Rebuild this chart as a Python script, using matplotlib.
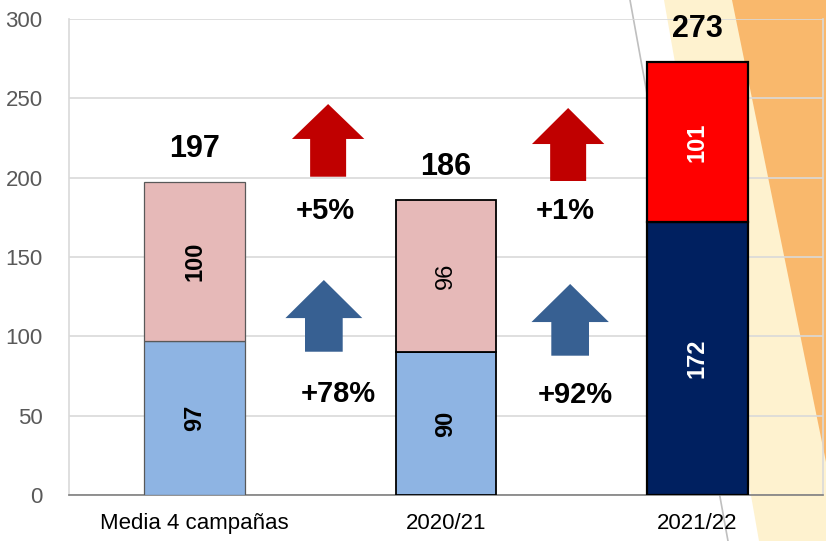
import matplotlib
matplotlib.use("Agg")
import matplotlib.pyplot as plt
from matplotlib.patches import Polygon
from matplotlib.lines import Line2D

plt.rcParams['font.family'] = ['Liberation Sans', 'DejaVu Sans']

categories = ["Media 4 campañas", "2020/21", "2021/22"]
bottom_vals = [97, 90, 172]
top_vals = [100, 96, 101]
totals = [197, 186, 273]
bottom_colors = ["#8EB4E3", "#8EB4E3", "#002060"]
top_colors = ["#E6B9B8", "#E6B9B8", "#FF0000"]
edge_colors = ["#595959", "#000000", "#000000"]
edge_widths = [0.9, 1.3, 1.6]
label_colors = ["black", "black", "white"]
top_label_bold = [True, False, True]
pct_red = ["+5%", "+1%"]
pct_blue = ["+78%", "+92%"]
yticks = [0, 50, 100, 150, 200, 250, 300]

W, H = 826, 541
fig = plt.figure(figsize=(W / 100, H / 100), dpi=100)

def fpt(px, py):
    return (px / W, 1 - py / H)

# background decoration
pale = Polygon([fpt(664, 0), fpt(826, 0), fpt(826, 541), fpt(759, 541)],
               closed=True, transform=fig.transFigure, facecolor="#FEF2CF",
               edgecolor="none", zorder=-3)
dark = Polygon([fpt(732, 0), fpt(826, 0), fpt(826, 462)],
               closed=True, transform=fig.transFigure, facecolor="#F9B86C",
               edgecolor="none", zorder=-2)
fig.add_artist(pale)
fig.add_artist(dark)
gl = Line2D([630 / W, 728 / W], [1, 0], transform=fig.transFigure,
            color="#BFBFBF", lw=1.2, zorder=-1)
fig.add_artist(gl)

ax = fig.add_axes([69 / W, 46 / H, 754 / W, 476 / H])
ax.set_facecolor("none")
ax.set_axisbelow(True)

x = list(range(len(categories)))
for i in x:
    ax.bar(i, bottom_vals[i], width=0.40, color=bottom_colors[i],
           edgecolor=edge_colors[i], linewidth=edge_widths[i], zorder=3)
    ax.bar(i, top_vals[i], bottom=bottom_vals[i], width=0.40, color=top_colors[i],
           edgecolor=edge_colors[i], linewidth=edge_widths[i], zorder=3)
    ax.text(i, bottom_vals[i] / 2, str(bottom_vals[i]), rotation=90,
            ha="center", va="center", fontsize=17, fontweight="bold",
            color=label_colors[i], zorder=5)
    ax.text(i, bottom_vals[i] + top_vals[i] / 2, str(top_vals[i]), rotation=90,
            ha="center", va="center", fontsize=17,
            fontweight="bold" if top_label_bold[i] else "normal",
            color=label_colors[i], zorder=5)
    ax.text(i, totals[i] + 21, str(totals[i]), ha="center", va="center",
            fontsize=22, fontweight="bold", color="black", zorder=5)

def arrow(xc, yb, yh, yt, shw, hhw, color):
    pts = [(xc - shw, yb), (xc + shw, yb), (xc + shw, yh), (xc + hhw, yh),
           (xc, yt), (xc - hhw, yh), (xc - shw, yh)]
    ax.add_patch(Polygon(pts, closed=True, facecolor=color, edgecolor="none", zorder=4))

arrow(0.531, 200.6, 224.4, 246.4, 0.0716, 0.144, "#C00000")
arrow(1.486, 197.9, 221.2, 243.9, 0.0716, 0.144, "#C00000")
arrow(0.514, 90.3, 111.5, 135.5, 0.075, 0.153, "#376092")
arrow(1.494, 87.8, 109.0, 133.0, 0.075, 0.154, "#376092")

ax.text(0.52, 179.0, pct_red[0], ha="center", va="center", fontsize=21, fontweight="bold")
ax.text(1.473, 179.0, pct_red[1], ha="center", va="center", fontsize=21, fontweight="bold")
ax.text(0.570, 63.8, pct_blue[0], ha="center", va="center", fontsize=21, fontweight="bold")
ax.text(1.513, 63.0, pct_blue[1], ha="center", va="center", fontsize=21, fontweight="bold")

ax.set_xlim(-0.5, 2.5)
ax.set_ylim(0, 300)
ax.set_yticks(yticks)
ax.set_yticklabels([str(v) for v in yticks], fontsize=16, color="#595959")
ax.set_xticks(x)
ax.set_xticklabels(categories, fontsize=16, color="black")
ax.tick_params(axis="both", length=0)
ax.tick_params(axis="y", pad=19)
ax.tick_params(axis="x", pad=13)
ax.yaxis.grid(True, color="#D9D9D9", lw=1.2)
ax.spines["top"].set_visible(False)
ax.spines["left"].set_color("#D9D9D9")
ax.spines["right"].set_color("#D9D9D9")
ax.spines["left"].set_linewidth(1.2)
ax.spines["right"].set_linewidth(1.2)
ax.spines["bottom"].set_color("#7F7F7F")
ax.spines["bottom"].set_linewidth(1.2)

fig.savefig("out.png", dpi=100)
